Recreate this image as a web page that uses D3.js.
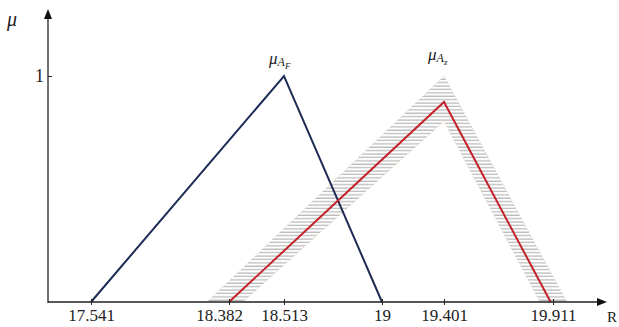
<!DOCTYPE html>
<html>
<head>
<meta charset="utf-8">
<script src="https://cdnjs.cloudflare.com/ajax/libs/d3/7.8.5/d3.min.js"></script>
<style>
  body { margin: 0; background: #fff; }
</style>
</head>
<body>
<div id="chart"></div>
<script>
// tick values on the R axis (the drawing is schematic, not to scale)
var xTicks = [17.541, 18.382, 18.513, 19, 19.401, 19.911];
var yTicks = [1];

// membership functions: [x, mu]
var muF = [[17.541, 0], [18.513, 1], [19, 0]];          // blue triangle
var muZ = [[18.382, 0], [19.401, 0.885], [19.9, 0]];     // red triangle
var muZUpper = [[18.248, 0], [19.401, 1.0], [19.976, 0]];  // outer edge of hatched band
var muZLower = [[18.415, 0], [19.401, 0.8], [19.85, 0]];   // inner edge of hatched band

var W = 619, H = 327;
var serif = '"Liberation Serif", "Times New Roman", Times, "DejaVu Serif", serif';

var svg = d3.select('#chart').append('svg')
    .attr('width', W)
    .attr('height', H)
    .style('font-family', serif);

// piecewise scale so the ticks sit where they sit in the figure
var x = d3.scaleLinear()
    .domain(xTicks)
    .range([91, 229, 284, 382, 444, 553]);

var y = d3.scaleLinear()
    .domain([0, 1])
    .range([302, 76]);

var x0 = 48, xEnd = 607, yTop = 9;

var line = d3.line()
    .x(function (d) { return x(d[0]); })
    .y(function (d) { return y(d[1]); });

// hatch pattern
var defs = svg.append('defs');
var pat = defs.append('pattern')
    .attr('id', 'hatch')
    .attr('patternUnits', 'userSpaceOnUse')
    .attr('width', 12)
    .attr('height', 3.4);
pat.append('line')
    .attr('x1', 0).attr('x2', 12)
    .attr('y1', 1).attr('y2', 1)
    .attr('stroke', '#a6a6a6')
    .attr('stroke-width', 1);

// band between the outer and inner triangle
var band = line(muZUpper) + 'Z' + line(muZLower) + 'Z';
svg.append('path')
    .attr('d', band)
    .attr('fill', 'url(#hatch)')
    .attr('fill-rule', 'evenodd')
    .attr('stroke', '#e8c7a8')
    .attr('stroke-width', 1)
    .attr('stroke-dasharray', '1,2');

// blue triangle
svg.append('path')
    .attr('d', line(muF))
    .attr('fill', 'none')
    .attr('stroke', '#1e2b55')
    .attr('stroke-width', 2);

// red triangle
svg.append('path')
    .attr('d', line(muZ))
    .attr('fill', 'none')
    .attr('stroke', '#c4232b')
    .attr('stroke-width', 2);

// x axis
var xAxis = d3.axisBottom(x)
    .tickValues(xTicks)
    .tickSize(3)
    .tickFormat(function (d) { return String(d); });

var gx = svg.append('g')
    .attr('transform', 'translate(0,' + y(0) + ')')
    .call(xAxis)
    .attr('font-family', null)
    .style('font-family', serif);
gx.select('.domain').remove();
gx.selectAll('.tick line').attr('y1', -3).attr('stroke', '#222');
gx.selectAll('.tick text')
    .style('font-family', serif)
    .attr('font-size', 17)
    .attr('fill', '#222')
    .attr('y', 7)
    .attr('dx', function (d) { return d === 18.382 ? -10 : 0; });

svg.append('line')
    .attr('x1', x0).attr('x2', xEnd - 6)
    .attr('y1', y(0)).attr('y2', y(0))
    .attr('stroke', '#222').attr('stroke-width', 1.3);
svg.append('path')
    .attr('d', 'M' + xEnd + ',' + y(0) + 'l-10,-4l0,8Z')
    .attr('fill', '#111');

// y axis
var yAxis = d3.axisLeft(y)
    .tickValues(yTicks)
    .tickSize(4)
    .tickFormat(d3.format('d'));
var gy = svg.append('g')
    .attr('transform', 'translate(' + x0 + ',0)')
    .call(yAxis)
    .attr('font-family', null)
    .style('font-family', serif);
gy.select('.domain').remove();
gy.selectAll('.tick line').attr('x2', 4).attr('stroke', '#222');
gy.selectAll('.tick text')
    .style('font-family', serif)
    .attr('font-size', 18)
    .attr('fill', '#222')
    .attr('x', -4);

svg.append('line')
    .attr('x1', x0).attr('x2', x0)
    .attr('y1', y(0) + 1).attr('y2', yTop + 6)
    .attr('stroke', '#222').attr('stroke-width', 1.3);
svg.append('path')
    .attr('d', 'M' + x0 + ',' + yTop + 'l-4,10l8,0Z')
    .attr('fill', '#111');

// axis names
svg.append('text')
    .attr('x', 7).attr('y', 26)
    .attr('font-size', 20)
    .attr('font-style', 'italic')
    .attr('fill', '#222')
    .text('μ');

svg.append('text')
    .attr('x', 607).attr('y', 322)
    .attr('font-size', 15)
    .attr('fill', '#222')
    .text('R');

// curve labels
function muLabel(px, py, sub) {
    var t = svg.append('text')
        .attr('x', px).attr('y', py)
        .attr('fill', '#222')
        .attr('font-style', 'italic');
    t.append('tspan').attr('font-size', 17).text('μ');
    t.append('tspan').attr('font-size', 12).attr('dy', 2).text('A');
    t.append('tspan').attr('font-size', 9).attr('dy', 3).text(sub);
}
muLabel(x(18.513) - 15, y(1) - 12, 'F');
muLabel(x(19.401) - 16, y(1) - 16, 'z');
</script>
</body>
</html>
